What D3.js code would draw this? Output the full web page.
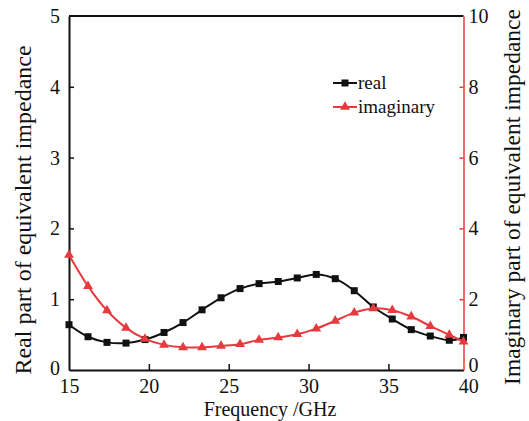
<!DOCTYPE html>
<html>
<head>
<meta charset="utf-8">
<script src="https://cdn.jsdelivr.net/npm/d3@7"></script>
<style>
  body { margin: 0; background: #fff; }
  text { font-family: "Liberation Serif", "Times New Roman", serif; }
</style>
</head>
<body>
<div id="chart"></div>
<script>
// values
var freq = [15, 16.19, 17.38, 18.57, 19.76, 20.95, 22.14, 23.33, 24.52, 25.71, 26.9,
  28.1, 29.29, 30.48, 31.67, 32.86, 34.05, 35.24, 36.43, 37.62, 38.81, 39.7];
var realPart = [0.64, 0.47, 0.39, 0.38, 0.43, 0.53, 0.67, 0.85, 1.02, 1.15, 1.22,
  1.25, 1.3, 1.35, 1.29, 1.12, 0.89, 0.72, 0.57, 0.48, 0.42, 0.46];
var imagPart = [3.25, 2.37, 1.68, 1.19, 0.88, 0.71, 0.64, 0.64, 0.68, 0.73, 0.85,
  0.92, 1.01, 1.17, 1.39, 1.62, 1.74, 1.69, 1.51, 1.24, 0.99, 0.8];
var xTicks = [15, 20, 25, 30, 35, 40];
var leftTicks = [0, 1, 2, 3, 4, 5];
var rightTicks = [0, 2, 4, 6, 8, 10];
var seriesNames = ['real', 'imaginary'];

var width = 529, height = 421;
var red = '#e53a3e';
var ink = '#111';
var plotLeft = 69, plotRight = 463.5, plotTop = 16, plotBottom = 370;

var svg = d3.select('#chart')
  .append('svg')
  .attr('width', width)
  .attr('height', height);

var x = d3.scaleLinear().domain([15, 39.7]).range([plotLeft, plotRight]);
var yLeft = d3.scaleLinear().domain([0, 5]).range([plotBottom, plotTop]);
var yRight = d3.scaleLinear().domain([0, 10]).range([plotBottom, plotTop]);

// top border
svg.append('line')
  .attr('x1', plotLeft).attr('x2', plotRight)
  .attr('y1', plotTop).attr('y2', plotTop)
  .attr('stroke', ink).attr('stroke-width', 2);

var fmt = d3.format('d');

var xAxis = svg.append('g')
  .attr('transform', 'translate(0,' + plotBottom + ')')
  .call(d3.axisBottom(x).tickValues(xTicks).tickFormat(fmt)
    .tickSizeInner(-6).tickSizeOuter(0).tickPadding(9));
xAxis.selectAll('.tick line').filter(function (d) { return d === 15 || d === 40; }).remove();

var leftAxis = svg.append('g')
  .attr('transform', 'translate(' + plotLeft + ',0)')
  .call(d3.axisLeft(yLeft).tickValues(leftTicks).tickFormat(fmt)
    .tickSizeInner(-5).tickSizeOuter(0).tickPadding(9));
leftAxis.selectAll('.tick line').filter(function (d) { return d === 0 || d === 5; }).remove();

var rightAxis = svg.append('g')
  .attr('transform', 'translate(' + plotRight + ',0)')
  .call(d3.axisRight(yRight).tickValues(rightTicks).tickFormat(fmt)
    .tickSizeInner(-4).tickSizeOuter(0).tickPadding(5));
rightAxis.selectAll('.tick line').filter(function (d) { return d === 0 || d === 10; }).remove();

[xAxis, leftAxis, rightAxis].forEach(function (g) {
  g.selectAll('text').attr('font-size', 20).attr('fill', ink)
    .style('font-family', '"Liberation Serif", "Times New Roman", serif');
  g.select('.domain').attr('stroke-width', 2).attr('stroke', ink);
  g.selectAll('.tick line').attr('stroke-width', 1.5).attr('stroke', ink);
});
rightAxis.select('.domain').attr('stroke', red).attr('stroke-width', 1.5);
rightAxis.selectAll('.tick line').attr('stroke', red);
// lift the right-hand 0 a little so it clears the 40 below it
rightAxis.selectAll('.tick text').filter(function (d) { return d === 0; }).attr('y', -5);
leftAxis.selectAll('.tick text').filter(function (d) { return d === 0; }).attr('y', -2);

// axis titles
svg.append('text')
  .attr('x', 270).attr('y', 416)
  .attr('text-anchor', 'middle')
  .attr('font-size', 20).attr('fill', ink)
  .text('Frequency /GHz');

svg.append('text')
  .attr('transform', 'translate(31,210) rotate(-90)')
  .attr('text-anchor', 'middle')
  .attr('font-size', 24).attr('fill', ink)
  .text('Real part of equivalent impedance');

svg.append('text')
  .attr('transform', 'translate(520,197) rotate(-90)')
  .attr('text-anchor', 'middle')
  .attr('font-size', 23.5).attr('fill', ink)
  .text('Imaginary part of equivalent impedance');

// series
var realData = freq.map(function (f, i) { return [f, realPart[i]]; });
var imagData = freq.map(function (f, i) { return [f, imagPart[i]]; });

var realLine = d3.line()
  .x(function (d) { return x(d[0]); })
  .y(function (d) { return yLeft(d[1]); })
  .curve(d3.curveCatmullRom);
var imagLine = d3.line()
  .x(function (d) { return x(d[0]); })
  .y(function (d) { return yRight(d[1]); })
  .curve(d3.curveCatmullRom);

svg.append('path')
  .datum(realData)
  .attr('d', realLine)
  .attr('fill', 'none')
  .attr('stroke', ink)
  .attr('stroke-width', 2);

svg.selectAll('.real-pt')
  .data(realData)
  .enter()
  .append('rect')
  .classed('real-pt', true)
  .attr('x', function (d) { return x(d[0]) - 3.5; })
  .attr('y', function (d) { return yLeft(d[1]) - 3.5; })
  .attr('width', 7)
  .attr('height', 7)
  .attr('fill', ink);

svg.append('path')
  .datum(imagData)
  .attr('d', imagLine)
  .attr('fill', 'none')
  .attr('stroke', red)
  .attr('stroke-width', 2);

var triangle = d3.symbol().type(d3.symbolTriangle).size(42);
svg.selectAll('.imag-pt')
  .data(imagData)
  .enter()
  .append('path')
  .classed('imag-pt', true)
  .attr('d', triangle)
  .attr('transform', function (d) { return 'translate(' + x(d[0]) + ',' + yRight(d[1]) + ')'; })
  .attr('fill', red);

// legend
var legend = svg.append('g').attr('transform', 'translate(333,83)');
seriesNames.forEach(function (name, i) {
  var color = i === 0 ? ink : red;
  var row = legend.append('g').attr('transform', 'translate(0,' + (i * 24) + ')');
  row.append('line')
    .attr('x1', 0).attr('x2', 24)
    .attr('stroke', color).attr('stroke-width', 2);
  if (i === 0) {
    row.append('rect').attr('x', 8.5).attr('y', -3.5).attr('width', 7).attr('height', 7).attr('fill', color);
  } else {
    row.append('path').attr('d', triangle).attr('transform', 'translate(12,0)').attr('fill', color);
  }
  row.append('text')
    .attr('x', 25).attr('y', 5.5)
    .attr('font-size', 19).attr('fill', ink)
    .text(name);
});
</script>
</body>
</html>
